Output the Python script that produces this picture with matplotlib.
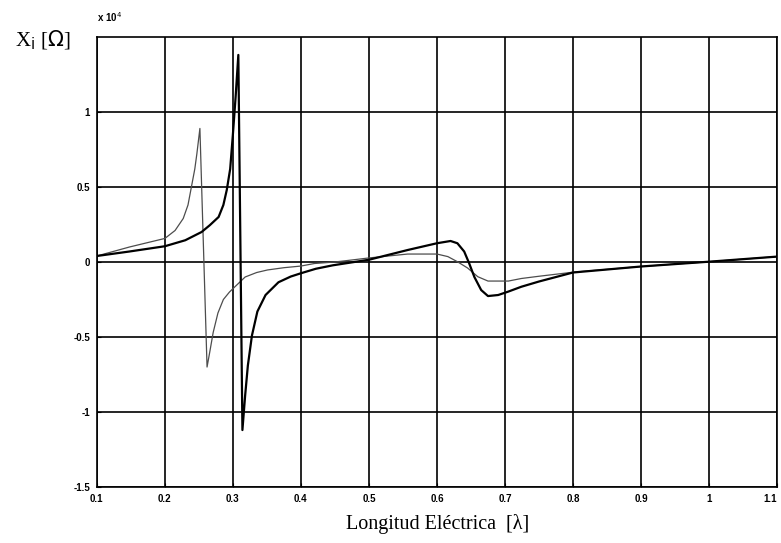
import numpy as np
import matplotlib.pyplot as plt

# valores en unidades de 10^4 ohm
x_fino = [0.10, 0.148, 0.20, 0.215, 0.227, 0.234, 0.239, 0.244, 0.247, 0.2515,
          0.262, 0.266, 0.271, 0.278, 0.286, 0.295, 0.303, 0.318, 0.335, 0.351,
          0.375, 0.40, 0.42, 0.45, 0.50, 0.557, 0.60, 0.616, 0.63, 0.645,
          0.66, 0.675, 0.705, 0.724, 0.75, 0.80, 0.90, 1.00, 1.10]
y_fino = [0.04, 0.10, 0.157, 0.21, 0.29, 0.38, 0.50, 0.62, 0.72, 0.89,
          -0.70, -0.60, -0.47, -0.34, -0.25, -0.20, -0.165, -0.10, -0.07, -0.053,
          -0.038, -0.027, -0.01, 0.00, 0.027, 0.053, 0.053, 0.036, 0.002, -0.04,
          -0.098, -0.127, -0.127, -0.11, -0.095, -0.068, -0.03, 0.002, 0.036]

x_grueso = [0.10, 0.148, 0.20, 0.23, 0.254, 0.266, 0.279, 0.286, 0.291, 0.296,
            0.30, 0.304, 0.308, 0.314, 0.318, 0.322, 0.328, 0.336, 0.348, 0.367,
            0.385, 0.40, 0.422, 0.447, 0.50, 0.557, 0.60, 0.62, 0.63, 0.64,
            0.647, 0.655, 0.665, 0.675, 0.69, 0.705, 0.724, 0.75, 0.80, 0.90,
            1.00, 1.10]
y_grueso = [0.04, 0.07, 0.105, 0.145, 0.20, 0.245, 0.30, 0.38, 0.48, 0.62,
            0.85, 1.10, 1.38, -1.12, -0.89, -0.69, -0.49, -0.33, -0.22, -0.135,
            -0.097, -0.075, -0.045, -0.022, 0.015, 0.08, 0.125, 0.14, 0.125, 0.07,
            -0.005, -0.10, -0.187, -0.227, -0.22, -0.197, -0.165, -0.13, -0.07, -0.03,
            0.002, 0.036]

xticks = [0.1, 0.2, 0.3, 0.4, 0.5, 0.6, 0.7, 0.8, 0.9, 1.0, 1.1]
xtick_labels = ['0.1', '0.2', '0.3', '0.4', '0.5', '0.6', '0.7', '0.8', '0.9', '1', '1.1']
yticks = [-1.5, -1.0, -0.5, 0.0, 0.5, 1.0]
ytick_labels = ['-1.5', '-1', '-0.5', '0', '0.5', '1']

fig = plt.figure(figsize=(7.81, 5.43), dpi=100)
ax = fig.add_axes([0.124, 0.103, 0.871, 0.829])

ax.plot(x_fino, y_fino, color='0.3', lw=0.9, zorder=3)
ax.plot(x_grueso, y_grueso, color='black', lw=1.6, zorder=4)

ax.set_xlim(0.1, 1.1)
ax.set_ylim(-1.5, 1.5)
ax.set_xticks(xticks)
ax.set_xticklabels(xtick_labels)
ax.set_yticks(yticks)
ax.set_yticklabels(ytick_labels)
ax.grid(True, color='black', lw=1.2, ls='-')
ax.set_axisbelow(True)
for s in ax.spines.values():
    s.set_color('black')
    s.set_linewidth(1.2)
ax.tick_params(direction='in', length=3, labelsize=7, pad=5)
for lab in ax.get_xticklabels() + ax.get_yticklabels():
    lab.set_fontfamily('Liberation Sans')
    lab.set_fontweight('bold')
# la ultima etiqueta queda pegada al borde
ax.get_xticklabels()[-1].set_horizontalalignment('right')

fig.text(0.124, 0.955, r'x 10$^4$', fontsize=7, fontweight='bold',
         family='Liberation Sans', ha='left', va='bottom')
fig.text(0.055, 0.925, r'X$_\mathrm{i}$ [$\Omega$]', fontsize=15,
         family='Liberation Serif', ha='center', va='center')
fig.text(0.56, 0.035, 'Longitud Eléctrica  [λ]', fontsize=14.5,
         family='Liberation Serif', ha='center', va='center')

fig.savefig('out.png', dpi=100)
